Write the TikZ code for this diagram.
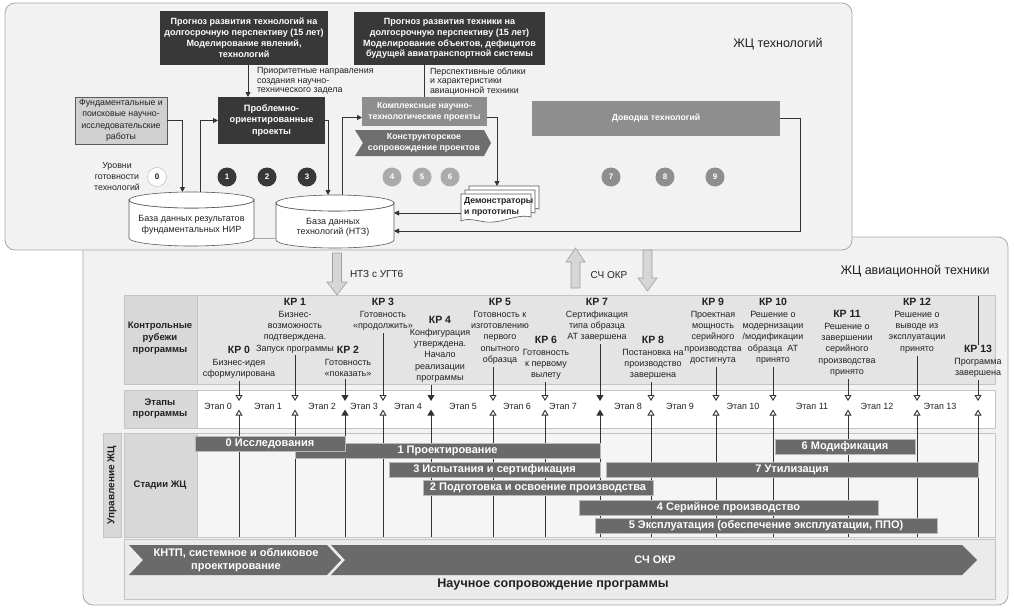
\documentclass[tikz,border=0pt]{standalone}
\usepackage{fontspec}
\setmainfont{Liberation Sans}
\usetikzlibrary{arrows.meta,calc}
\newcommand{\fsz}[2]{\fontsize{#1}{#2}\selectfont}
\newcommand{\kr}[1]{{\fsz{10.5}{12}\bfseries КР #1}}
\definecolor{panelbg}{HTML}{F2F2F2}
\definecolor{panelln}{HTML}{A8A8A8}
\definecolor{darkc}{HTML}{383838}
\definecolor{midc}{HTML}{8E8E8E}
\definecolor{chevc}{HTML}{6E6E6E}
\definecolor{lightc}{HTML}{ABABAB}
\definecolor{fundc}{HTML}{D0D0D0}
\definecolor{hdrc}{HTML}{D8D8D8}
\definecolor{krc}{HTML}{E4E4E4}
\definecolor{barc}{HTML}{6A6A6A}
\definecolor{linec}{HTML}{333333}
\definecolor{tblc}{HTML}{C4C4C4}
\definecolor{rowthree}{HTML}{F5F5F5}
\definecolor{rowfour}{HTML}{EBEBEB}
\definecolor{blockc}{HTML}{D6D6D6}
\definecolor{txtc}{HTML}{222222}
\begin{document}
\begin{tikzpicture}[x=1pt,y=-1pt,
  every node/.style={inner sep=0pt, outer sep=0pt, text=txtc},
  panel/.style={draw=panelln, fill=panelbg, rounded corners=10pt, line width=0.8pt},
  darkbox/.style={fill=darkc, text=white, align=center, font=\bfseries\fsz{9}{11}},
  midbox/.style={fill=midc, text=white, align=center, font=\bfseries\fsz{8.7}{11}},
  fundbox/.style={fill=fundc, draw=gray!70!black, line width=0.5pt, align=center, font=\fsz{8.8}{11.5}},
  note/.style={align=left, font=\fsz{8.9}{9.5}, anchor=north west},
  arr/.style={draw=linec, line width=0.9pt, -{Triangle[length=5pt,width=5pt]}},
  ln/.style={draw=linec, line width=0.9pt},
  db/.style={draw=gray!70!black, fill=white, line width=0.6pt},
  lvl/.style={circle, minimum size=19pt, text=white, font=\bfseries\fsz{8}{9}},
  krtxt/.style={align=center, font=\fsz{9}{11.3}, anchor=north},
  et/.style={font=\fsz{9}{10}},
  krmark/.style={draw=linec, line width=0.9pt},
  opentip/.style={-{Triangle[fill=white,length=6pt,width=7pt]}},
  fulltip/.style={-{Triangle[length=6pt,width=7pt]}},
  bar/.style={fill=barc, draw=gray!55, line width=0.5pt, text=white, font=\bfseries\fsz{11}{12}, minimum height=15pt, anchor=north west},
  hdr/.style={align=center, font=\bfseries\fsz{9.5}{12}},
  cell/.style={draw=tblc, line width=0.6pt},
  block/.style={fill=blockc, draw=gray!75, line width=0.6pt},
  chevtxt/.style={text=white, align=center, font=\bfseries\fsz{11}{13.5}}
]
\useasboundingbox (0,0) rectangle (1014,610);
% ---------- bottom panel ----------
\draw[panel] (83,237) rectangle (1008,605);
\node[font=\fsz{12.5}{14}] (zhcat) at (915,271) {ЖЦ авиационной техники};
\draw[cell, fill=hdrc] (124,295) rectangle (197,384);
\draw[cell, fill=krc] (197,295) rectangle (995,384);
\draw[cell, fill=hdrc] (124,390) rectangle (197,428);
\draw[cell, fill=white] (197,390) rectangle (995,428);
\draw[cell, fill=hdrc] (124,433) rectangle (197,537);
\draw[cell, fill=rowthree] (197,433) rectangle (995,537);
\draw[cell, fill=rowfour] (124,539) rectangle (995,599);
\draw[cell, fill=hdrc] (103,433) rectangle (121,537);
\node[hdr] (h1) at (160,338) {Контрольные\\рубежи\\программы};
\node[hdr, font=\bfseries\fsz{9.5}{11}] (h2) at (160,408.5) {Этапы\\программы};
\node[hdr] (h3) at (160,485) {Стадии ЖЦ};
\node[hdr, rotate=90, font=\bfseries\fsz{10}{11}] (h4) at (112,485) {Управление ЖЦ};
% KR texts
\node[krtxt] (k0) at (239,346.2) {\kr{0}\\[0.5pt]Бизнес-идея\\сформулирована};
\node[krtxt] (k1) at (295,298.2) {\kr{1}\\[0.5pt]Бизнес-\\возможность\\подтверждена.\\Запуск программы};
\node[krtxt] (k2) at (348,346.2) {\kr{2}\\[0.5pt]Готовность\\«показать»};
\node[krtxt] (k3) at (383,298.2) {\kr{3}\\[0.5pt]Готовность\\«продолжить»};
\node[krtxt] (k4) at (440,316.2) {\kr{4}\\[0.5pt]Конфигурация\\утверждена.\\Начало\\реализации\\программы};
\node[krtxt] (k5) at (500,298.2) {\kr{5}\\[0.5pt]Готовность к\\изготовлению\\первого\\опытного\\образца};
\node[krtxt] (k6) at (546,336.2) {\kr{6}\\[0.5pt]Готовность\\к первому\\вылету};
\node[krtxt] (k7) at (597,298.2) {\kr{7}\\[0.5pt]Сертификация\\типа образца\\АТ завершена};
\node[krtxt] (k8) at (653,336.2) {\kr{8}\\[0.5pt]Постановка на\\производство\\завершена};
\node[krtxt] (k9) at (713,298.2) {\kr{9}\\[0.5pt]Проектная\\мощность\\серийного\\производства\\достигнута};
\node[krtxt] (k10) at (773,298.2) {\kr{10}\\[0.5pt]Решение о\\модернизации\\/модификации\\образца~~АТ\\принято};
\node[krtxt] (k11) at (847,310.2) {\kr{11}\\[0.5pt]Решение о\\завершении\\серийного\\производства\\принято};
\node[krtxt] (k12) at (917,298.2) {\kr{12}\\[0.5pt]Решение о\\выводе из\\эксплуатации\\принято};
\node[krtxt] (k13) at (978,345.2) {\kr{13}\\[0.5pt]Программа\\завершена};
\draw[krmark] (978,296) -- (k13.north -| 978,0);
% stage labels
\foreach \n/\x in {0/218,1/268,2/322,3/364,4/408,5/463,6/517,7/563,8/628,9/680,10/743,11/812,12/877,13/940}
  \node[et] (e\n) at (\x,406) {Этап \n};
% KR marker lines
\foreach \n/\x in {0/239,1/295,3/383,5/493,6/545,8/651,9/716,10/773,11/848,12/917,13/978}{
  \draw[krmark,opentip,shorten <=2.5pt] (\x,0 |- k\n.south) -- (\x,401);
  \draw[krmark,opentip] (\x,537) -- (\x,409.5);
}
\foreach \n/\x in {2/345,4/431,7/600}{
  \draw[krmark,fulltip,shorten <=2.5pt] (\x,0 |- k\n.south) -- (\x,401);
  \draw[krmark,fulltip] (\x,537) -- (\x,409.5);
}
% LC stage bars
\node[bar, minimum width=305pt] (s1) at (295,443) {1 Проектирование};
\node[bar, minimum width=150pt] (s0) at (195,436.5) {0 Исследования};
\node[bar, minimum width=211pt] (s3) at (389,462) {3 Испытания и сертификация};
\node[bar, minimum width=230pt] (s2) at (423,480) {2 Подготовка и освоение производства};
\node[bar, minimum width=140pt] (s6) at (775,439) {6 Модификация};
\node[bar, minimum width=372pt] (s7) at (606,462) {7 Утилизация};
\node[bar, minimum width=299pt] (s4) at (579,500) {4 Серийное производство};
\node[bar, minimum width=342pt] (s5) at (595,518) {5 Эксплуатация (обеспечение эксплуатации, ППО)};
% bottom chevrons
\fill[barc] (129,545) -- (327,545) -- (341,560) -- (327,575) -- (129,575) -- (143,560) -- cycle;
\fill[barc] (331,545) -- (962,545) -- (977,560) -- (962,575) -- (331,575) -- (345,560) -- cycle;
\node[chevtxt] (kntp) at (236,560) {КНТП, системное и обликовое\\проектирование};
\node[chevtxt] (schokr) at (655,560) {СЧ ОКР};
\node[font=\bfseries\fsz{12.6}{14}] (nauch) at (553,584) {Научное сопровождение программы};
% ---------- top panel ----------
\draw[panel] (5,3) rectangle (852,250);
\node[font=\fsz{12.5}{14}] (zhct) at (778,44) {ЖЦ технологий};
\node[darkbox, minimum width=168pt, minimum height=54pt, anchor=north west] (prog1) at (160,11) {Прогноз развития технологий на\\долгосрочную перспективу (15 лет)\\Моделирование явлений,\\технологий};
\node[darkbox, font=\bfseries\fsz{9}{10.8}, minimum width=191pt, minimum height=53pt, anchor=north west] (prog2) at (354,12) {Прогноз развития техники на\\долгосрочную перспективу (15 лет)\\Моделирование объектов, дефицитов\\будущей авиатранспортной системы};
\node[note] (prio) at (257,67.5) {Приоритетные направления\\создания научно-\\технического задела};
\node[note] (persp) at (430,67.5) {Перспективные облики\\и характеристики\\авиационной техники};
\node[fundbox, minimum width=92pt, minimum height=47pt, anchor=north west] (fund) at (75,97) {Фундаментальные и\\поисковые научно-\\исследовательские\\работы};
\node[darkbox, font=\bfseries\fsz{9.2}{11.5}, minimum width=107pt, minimum height=47pt, anchor=north west] (prob) at (218,97) {Проблемно-\\ориентированные\\проекты};
\node[midbox, minimum width=125pt, minimum height=29pt, anchor=north west] (cx) at (362,97) {Комплексные научно-\\технологические проекты};
\fill[chevc] (355,130) -- (484,130) -- (491,143) -- (484,156) -- (355,156) -- (363,143) -- cycle;
\node[font=\bfseries\fsz{8.8}{10.5}, text=white, align=center] (konstr) at (424,143) {Конструкторское\\сопровождение проектов};
\node[midbox, minimum width=248pt, minimum height=35pt, anchor=north west] (dov) at (532,101) {Доводка технологий};
% readiness levels
\node[align=center, font=\fsz{8.8}{11}] (urov) at (117,177) {Уровни\\готовности\\технологий};
\node[lvl, fill=white, draw=gray!60, text=txtc] (l0) at (157,177) {0};
\node[lvl, fill=darkc] (l1) at (227,177) {1};
\node[lvl, fill=darkc] (l2) at (267,177) {2};
\node[lvl, fill=darkc] (l3) at (307,177) {3};
\node[lvl, fill=lightc] (l4) at (392,177) {4};
\node[lvl, fill=lightc] (l5) at (422,177) {5};
\node[lvl, fill=lightc] (l6) at (450,177) {6};
\node[lvl, fill=midc] (l7) at (611,177) {7};
\node[lvl, fill=midc] (l8) at (665,177) {8};
\node[lvl, fill=midc] (l9) at (715,177) {9};
% databases
\draw[db] (129,200) -- (129,238) arc[start angle=180,end angle=0,x radius=62.5,y radius=8] -- (254,200) arc[start angle=0,end angle=180,x radius=62.5,y radius=8] -- cycle;
\draw[db] (191.5,200) ellipse[x radius=62.5,y radius=8];
\node[minimum width=125pt, minimum height=54pt] (db1) at (191.5,219) {};
\node[align=center, font=\fsz{9}{10.5}] (db1t) at (191.5,225) {База данных результатов\\фундаментальных НИР};
\draw[db] (276,203) -- (276,240) arc[start angle=180,end angle=0,x radius=59,y radius=8] -- (394,203) arc[start angle=0,end angle=180,x radius=59,y radius=8] -- cycle;
\draw[db] (335,203) ellipse[x radius=59,y radius=8];
\node[minimum width=118pt, minimum height=53pt] (db2) at (335,221.5) {};
\node[align=center, font=\fsz{9}{10.5}] (db2t) at (333,227.5) {База данных\\технологий (НТЗ)};
% demonstrators
\foreach \s in {8,4,0}{
  \draw[db] (461+\s,194-\s) -- (531+\s,194-\s) -- (531+\s,217-\s) .. controls (515+\s,213-\s) and (500+\s,226-\s) .. (480+\s,221-\s) .. controls (470+\s,219-\s) and (465+\s,219-\s) .. (461+\s,221-\s) -- cycle;
}
\node[minimum width=78pt, minimum height=35pt] (demo) at (500,203.5) {};
\node[anchor=north west, align=left, font=\bfseries\fsz{8.7}{11}] (demotxt) at (464,198) {Демонстраторы\\и прототипы};
% connectors
\draw[arr] ([xshift=4pt]prog1.south) -- ([xshift=4pt]prog1.south |- prob.north);
\draw[ln] (prog2.south -| cx.north) -- (cx.north);
\draw[arr] (fund.east) -| ([xshift=-9pt]db1.north);
\draw[arr] ([xshift=8.5pt]db1.north) |- (prob.west);
\draw[arr] (prob.east) -| ([xshift=-7pt]db2.north);
\draw[arr] ([xshift=7pt]db2.north) |- ([yshift=-6pt]cx.west);
\draw[arr] ([yshift=-6pt]cx.east) -| ([xshift=-3pt]demo.north);
\draw[arr] (demo.west |- 0,213) -- (db2.east |- 0,213);
\draw[arr] (dov.east) -- ++(20,0) |- (db2.east |- 0,231);
\draw[gray!70, line width=0.5pt] (db1.east |- 0,238) -- (db2.west |- 0,238);
% ---------- block arrows between panels ----------
\draw[block] (332.5,253) -- (341.5,253) -- (341.5,282) -- (347,282) -- (337,295) -- (327,282) -- (332.5,282) -- cycle;
\node[anchor=west, font=\fsz{10}{11}] (nts) at (350,274) {НТЗ с УГТ6};
\draw[block] (571,288) -- (580,288) -- (580,262) -- (585,262) -- (575.5,248) -- (566,262) -- (571,262) -- cycle;
\node[font=\fsz{10}{11}] (schokrl) at (609,275) {СЧ ОКР};
\draw[block] (643,250) -- (652,250) -- (652,278) -- (657,278) -- (647.5,291) -- (638,278) -- (643,278) -- cycle;
\end{tikzpicture}
\end{document}
